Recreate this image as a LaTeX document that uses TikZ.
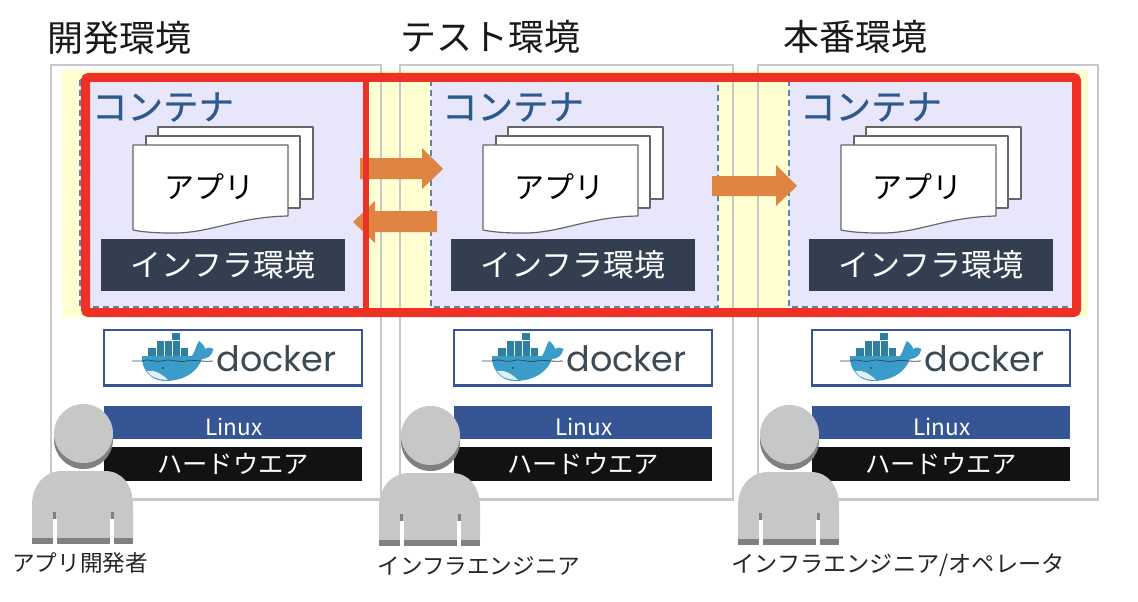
\documentclass[tikz,border=0pt]{standalone}
\usepackage{fontspec}
\usepackage{xcolor}
\setmainfont{Noto Sans CJK JP}
\newfontfamily\logofont{Poppins}
\newfontfamily\headfont[FakeBold=0.7]{Noto Sans CJK JP}
\definecolor{bandyellow}{HTML}{FFFFD2}
\definecolor{boxgray}{HTML}{C8C8C8}
\definecolor{lavender}{HTML}{E8E6FB}
\definecolor{dashblue}{HTML}{5C84AE}
\definecolor{titleblue}{HTML}{2C5A8A}
\definecolor{infradark}{HTML}{333E50}
\definecolor{linuxblue}{HTML}{365594}
\definecolor{logoblue}{HTML}{3A9CC8}
\definecolor{cargoblue}{HTML}{2F7F9E}
\definecolor{logotext}{HTML}{3B4A55}
\definecolor{arroworange}{HTML}{E08443}
\definecolor{alertred}{HTML}{EE3124}
\definecolor{personlight}{HTML}{C6C7C7}
\definecolor{persondark}{HTML}{808080}
\tikzset{
    envbox/.style={draw=boxgray,line width=2.8pt},
    container/.style={draw=dashblue,fill=lavender,line width=1.2pt,dash pattern=on 6pt off 4pt},
    page/.style={draw=black!60,fill=white,line width=1.2pt,line join=round},
    solidlabel/.style={inner sep=0pt,text=white},
    flowarrow/.style={fill=arroworange},
    redline/.style={draw=alertred,line width=9pt,rounded corners=3pt},
    titletext/.style={inner sep=0pt,text=black!90,font=\fontsize{36}{36}\selectfont},
    persontext/.style={inner sep=0pt,text=black!85,font=\fontsize{22.6}{24}\selectfont},
}
\newcommand{\envcolumn}[3]{
    \begin{scope}[shift={(#1,0)}]
    \draw[container] (#2,80) rectangle (#3,307);
    \node[inner sep=0pt,text=titleblue,font=\headfont\fontsize{35.5}{36}\selectfont] (C#1) at (163,107){コンテナ};
    \draw[page] (158,127) rectangle (313,199);
    \draw[page] (146,136) rectangle (300,208);
    \draw[page] (133,145)--(288,145)--(288,216) .. controls (235,217) and (210,234) .. (170,233) .. controls (155,233) and (143,232) .. (133,230)--cycle;
    \node[inner sep=0pt,text=black,font=\fontsize{30}{30}\selectfont] (A#1) at (209,187){アプリ};
    \node[fill=infradark,solidlabel,minimum width=244pt,minimum height=52pt,font=\fontsize{31}{31}\selectfont] (I#1) at (223,264.5){インフラ環境};
    \draw[draw=linuxblue,fill=white,line width=2.8pt] (104,330) rectangle (362,385.5);
    \fill[cargoblue] (172,333) rectangle (180,340);
    \fill[cargoblue] (157,340.5) rectangle (180,347.5);
    \fill[cargoblue] (148,348) rectangle (188,355.5);
    \draw[lavender!60!white,line width=0.5pt] (164.5,340.5)--(164.5,347.5) (172,340.5)--(172,355.5) (156,348)--(156,355.5) (164,348)--(164,355.5) (180,348)--(180,355.5);
    \fill[logoblue] (142,356)--(192,356) .. controls (196,350) and (196,345) .. (199,341) .. controls (203,344) and (205,347) .. (205,349) .. controls (208,347) and (211,347) .. (213.5,349) .. controls (212,356) and (207,359) .. (202,359) .. controls (196,375) and (180,381) .. (165,381) .. controls (150,381) and (141,368) .. (142,356)--cycle;
    \fill[white!85!logoblue] (147,371) .. controls (153,370) and (160,372) .. (168,380) .. controls (158,380) and (151,377) .. (147,371)--cycle;
    \draw[logotext,line width=0.8pt] (132,361)--(142,361) .. controls (150,358) and (155,363) .. (162,361) .. controls (170,358) and (178,363) .. (186,361) .. controls (192,359) and (198,362) .. (213,361);
    \fill[logotext] (163,368) circle (1.2);
    \node[inner sep=0pt,text=logotext,font=\logofont\fontsize{35}{35}\selectfont] (D#1) at (276.5,358.5){docker};
    \fill[linuxblue] (104,406) rectangle (362,439);
    \node[solidlabel,font=\fontsize{22.5}{23}\selectfont] (L#1) at (234,427){Linux};
    \node[fill=black!93,solidlabel,minimum width=258pt,minimum height=34pt,font=\fontsize{25.3}{26}\selectfont] (H#1) at (233,464){ハードウエア};
    \end{scope}
}
\newcommand{\person}[2]{
    \begin{scope}[shift={(#1,#2)}]
    \fill[persondark] (83.5,439.5) circle (29.5);
    \fill[personlight] (83.5,433.5) circle (29.5);
    \fill[personlight] (32,538)--(32,505) .. controls (32,485) and (45,471) .. (62,471)--(105,471) .. controls (122,471) and (133,485) .. (133,505)--(133,538)--cycle;
    \fill[persondark] (32,538) rectangle (133,544);
    \fill[white] (52.7,519) rectangle (56.7,544.5);
    \fill[white] (110,519) rectangle (114.3,544.5);
    \fill[persondark] (53.3,512) rectangle (55.9,519);
    \fill[persondark] (111,512) rectangle (113.6,519);
    \end{scope}
}

\begin{document}
\begin{tikzpicture}[x=1pt,y=-1pt]
    \useasboundingbox (0,0) rectangle (1138,602);
    \fill[bandyellow] (62,70) rectangle (1088,317);
    \draw[envbox] (51,65) rectangle (381,499.5);
    \draw[envbox] (400,65) rectangle (733,499.5);
    \draw[envbox] (758,65) rectangle (1098,499.5);
    \node[titletext] (T1) at (119,38){開発環境};
    \node[titletext] (T2) at (490,37){テスト環境};
    \node[titletext] (T3) at (855.5,37){本番環境};
    \envcolumn{0}{80}{365}
    \envcolumn{350}{81}{368}
    \envcolumn{708}{81}{366}
    \fill[flowarrow] (360,158)--(422,158)--(422,148)--(443,169)--(422,189)--(422,179)--(360,179)--cycle;
    \fill[flowarrow] (437,211)--(375,211)--(375,201)--(353,222)--(375,243)--(375,232)--(437,232)--cycle;
    \fill[flowarrow] (712,176)--(776,176)--(776,165)--(797,186)--(776,206)--(776,196)--(712,196)--cycle;
    \draw[redline] (85.5,77.5) rectangle (1076.5,312.5);
    \draw[alertred,line width=6pt] (366,78)--(366,312);
    \person{0}{0}
    \person{347}{2}
    \person{706}{1}
    \node[persontext] (P1) at (80,563){アプリ開発者};
    \node[persontext] (P2) at (479,566){インフラエンジニア};
    \node[persontext,font=\fontsize{23.2}{24}\selectfont] (P3) at (898,565){インフラエンジニア/オペレータ};
\end{tikzpicture}
\end{document}
